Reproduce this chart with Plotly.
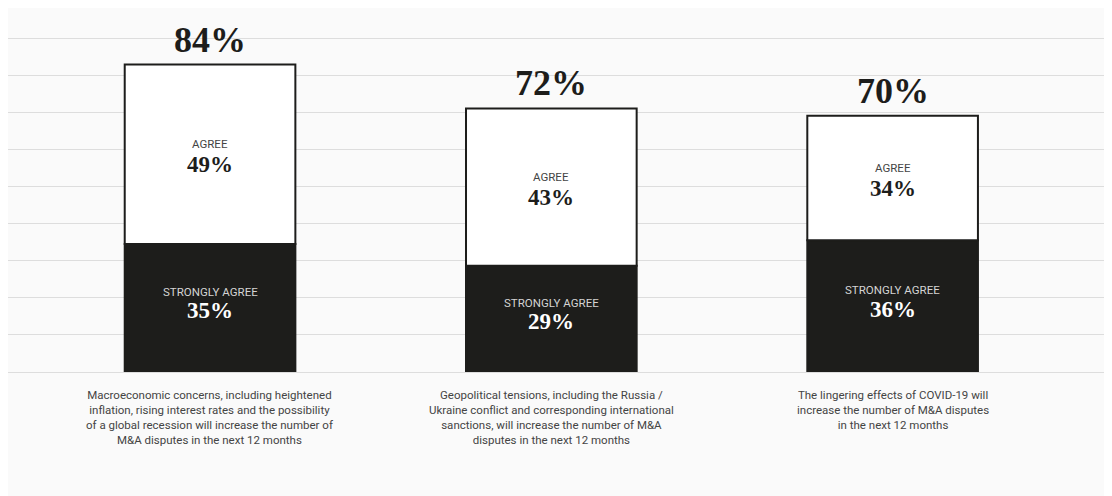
import plotly.graph_objects as go

statements = [
    "Macroeconomic concerns, including heightened<br>inflation, rising interest rates and the possibility<br>of a global recession will increase the number of<br>M&A disputes in the next 12 months",
    "Geopolitical tensions, including the Russia /<br>Ukraine conflict and corresponding international<br>sanctions, will increase the number of M&A<br>disputes in the next 12 months",
    "The lingering effects of COVID-19 will<br>increase the number of M&A disputes<br>in the next 12 months",
]
strongly_agree = [35, 29, 36]
agree = [49, 43, 34]
totals = [84, 72, 70]

x = list(range(len(statements)))
DARK = "#1d1d1b"
BG = "#fafafa"
SERIF = "Liberation Serif"
SANS = "Roboto"

fig = go.Figure()
fig.add_bar(x=x, y=strongly_agree, width=0.5, marker=dict(color=DARK, line=dict(color=DARK, width=2)),
            hoverinfo="skip", name="Strongly agree")
fig.add_bar(x=x, y=agree, base=strongly_agree, width=0.5,
            marker=dict(color="#ffffff", line=dict(color=DARK, width=2)),
            hoverinfo="skip", name="Agree")

ann = []
for i in x:
    ann.append(dict(x=i, y=totals[i], xref="x", yref="y", text=str(totals[i]) + "%", showarrow=False,
                    yanchor="bottom", yshift=3,
                    font=dict(family=SERIF, size=36, color=DARK, weight="bold")))
    mid_a = strongly_agree[i] + agree[i] / 2
    ann.append(dict(x=i, y=mid_a, xref="x", yref="y", text="AGREE", showarrow=False,
                    yanchor="middle", yshift=10, font=dict(family=SANS, size=11.5, color="#444444")))
    ann.append(dict(x=i, y=mid_a, xref="x", yref="y", text=str(agree[i]) + "%", showarrow=False,
                    yanchor="middle", yshift=-10, font=dict(family=SERIF, size=23, color=DARK, weight="bold")))
    mid_s = strongly_agree[i] / 2
    ann.append(dict(x=i, y=mid_s, xref="x", yref="y", text="STRONGLY AGREE", showarrow=False,
                    yanchor="middle", yshift=16, font=dict(family=SANS, size=11.5, color="#d4d4d4")))
    ann.append(dict(x=i, y=mid_s, xref="x", yref="y", text=str(strongly_agree[i]) + "%", showarrow=False,
                    yanchor="middle", yshift=-3, font=dict(family=SERIF, size=23, color="#ffffff", weight="bold")))
    ann.append(dict(x=i, y=0, xref="x", yref="y", text=statements[i], showarrow=False,
                    yanchor="top", yshift=-14, align="center",
                    font=dict(family=SANS, size=11.5, color="#444444")))

fig.update_layout(
    width=1104, height=488,
    barmode="overlay",
    showlegend=False,
    paper_bgcolor=BG, plot_bgcolor=BG,
    margin=dict(l=0, r=3, t=2, b=124),
    annotations=ann,
    xaxis=dict(range=[-0.592, 2.634], showticklabels=False, showgrid=False, zeroline=False,
               showline=False, ticks=""),
    yaxis=dict(range=[0, 98.9], dtick=10.11, tick0=0, showticklabels=False, showgrid=True,
               gridcolor="#dddddd", gridwidth=1, zeroline=True, zerolinecolor="#dddddd",
               zerolinewidth=1, showline=False, ticks=""),
)

fig.write_html("out.html")
